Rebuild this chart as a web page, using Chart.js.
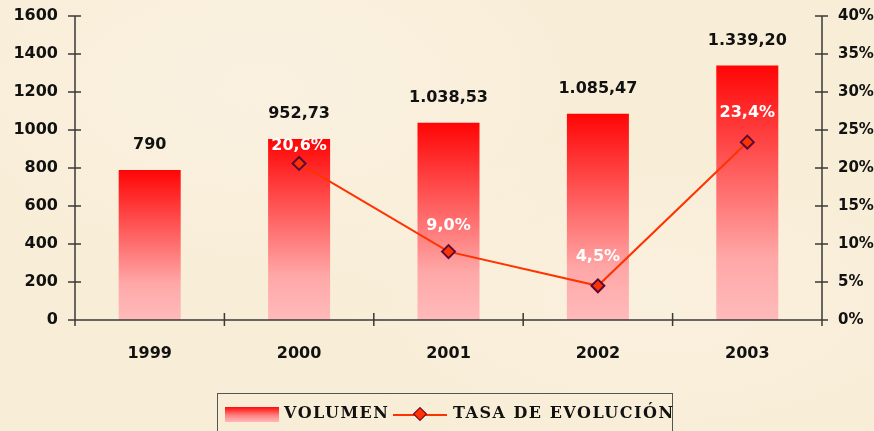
<!DOCTYPE html>
<html>
<head>
<meta charset="utf-8">
<script src="https://cdn.jsdelivr.net/npm/chart.js@4/dist/chart.umd.min.js"></script>
<style>
  html, body { margin:0; padding:0; width:874px; height:431px; overflow:hidden; background:#F8EDD7; }
  #wrap { position:relative; width:874px; height:431px;
    background: radial-gradient(ellipse at 30% 20%, #FAF1E1 0%, rgba(250,241,225,0) 45%),
                radial-gradient(ellipse at 75% 70%, #FAF0DE 0%, rgba(250,240,222,0) 40%),
                #F8EDD6; }
  canvas { position:absolute; left:0; top:0; }
  #legend { position:absolute; left:217px; top:393px; width:456px; height:45px;
    border:1.5px solid #555; box-sizing:border-box; font-family:"DejaVu Serif", serif; font-weight:bold;
    font-size:16px; letter-spacing:1.5px; color:#111; }
  .sw1 { position:absolute; left:7px; top:13px; width:54px; height:15px;
    background:linear-gradient(#FF0A0A, #FF8080 55%, #FFB8B8); }
  .t1 { position:absolute; left:66px; top:9px; white-space:nowrap; }
  .sw2 { position:absolute; left:175px; top:20px; width:54px; height:2px; background:#FF3300; }
  .dia { position:absolute; left:197px; top:15px; width:8px; height:8px; background:#FF3300;
    border:1.5px solid #660033; transform:rotate(45deg); }
  .t2 { position:absolute; left:235px; top:9px; white-space:nowrap; }
</style>
</head>
<body>
<div id="wrap">
<canvas id="c" width="874" height="431"></canvas>
<div id="legend">
  <div class="sw1"></div><div class="t1">VOLUMEN</div>
  <div class="sw2"></div><div class="dia"></div><div class="t2">TASA DE EVOLUCIÓN</div>
</div>
</div>
<script>
const categories = ['1999', '2000', '2001', '2002', '2003'];
const volumen = [790, 952.73, 1038.53, 1085.47, 1339.20];
const volumenLabels = ['790', '952,73', '1.038,53', '1.085,47', '1.339,20'];
const tasa = [null, 20.6, 9.0, 4.5, 23.4];
const tasaLabels = [null, '20,6%', '9,0%', '4,5%', '23,4%'];

const FONT = '"DejaVu Sans", Verdana, sans-serif';
const lineLabelOffsets = [0, 18, 26, 29, 29];

const axesPlugin = {
  id: 'axesDraw',
  afterDatasetsDraw(chart) {
    const { ctx, chartArea: a, scales } = chart;
    ctx.save();
    ctx.strokeStyle = '#3a3a3a';
    ctx.lineWidth = 1.5;
    ctx.beginPath();
    ctx.moveTo(a.left, a.top); ctx.lineTo(a.left, a.bottom);
    ctx.moveTo(a.right, a.top); ctx.lineTo(a.right, a.bottom);
    ctx.moveTo(a.left - 7, a.bottom); ctx.lineTo(a.right + 6, a.bottom);
    scales.y.ticks.forEach(t => {
      const y = scales.y.getPixelForValue(t.value);
      ctx.moveTo(a.left - 7, y); ctx.lineTo(a.left + 6, y);
    });
    scales.y2.ticks.forEach(t => {
      const y = scales.y2.getPixelForValue(t.value);
      ctx.moveTo(a.right - 7, y); ctx.lineTo(a.right + 6, y);
    });
    const n = categories.length;
    for (let i = 0; i <= n; i++) {
      let x;
      if (i === 0) x = a.left; else if (i === n) x = a.right;
      else x = (scales.x.getPixelForValue(i - 1) + scales.x.getPixelForValue(i)) / 2;
      ctx.moveTo(x, a.bottom - 7); ctx.lineTo(x, a.bottom + 6);
    }
    ctx.stroke();
    ctx.restore();
  },
  afterDraw(chart) {
    const { ctx } = chart;
    ctx.save();
    ctx.font = 'bold 16px ' + FONT;
    ctx.textAlign = 'center';
    ctx.textBaseline = 'middle';
    const barMeta = chart.getDatasetMeta(0);
    barMeta.data.forEach((el, i) => {
      ctx.fillStyle = '#111';
      ctx.fillText(volumenLabels[i], el.x, el.y - 25);
    });
    const lineMeta = chart.getDatasetMeta(1);
    lineMeta.data.forEach((el, i) => {
      if (tasa[i] == null) return;
      ctx.fillStyle = '#ffffff';
      ctx.fillText(tasaLabels[i], el.x, el.y - lineLabelOffsets[i]);
    });
    ctx.restore();
  }
};

function fixV(width) {
  return (s) => { s.width = width; s.paddingTop = 0; s.paddingBottom = 0; };
}

new Chart(document.getElementById('c'), {
  data: {
    labels: categories,
    datasets: [
      {
        type: 'bar',
        label: 'VOLUMEN',
        data: volumen,
        yAxisID: 'y',
        order: 2,
        barPercentage: 0.415,
        categoryPercentage: 1,
        borderWidth: 0,
        backgroundColor: (c) => {
          const chart = c.chart;
          const { chartArea, scales } = chart;
          if (!chartArea || c.type !== 'data') return '#ff0000';
          const top = scales.y.getPixelForValue(c.raw);
          const bottom = scales.y.getPixelForValue(0);
          const g = chart.ctx.createLinearGradient(0, top, 0, bottom);
          g.addColorStop(0, '#FF0505');
          g.addColorStop(0.5, '#FF7070');
          g.addColorStop(0.76, '#FFA8A8');
          g.addColorStop(1, '#FFBABA');
          return g;
        }
      },
      {
        type: 'line',
        label: 'TASA DE EVOLUCIÓN',
        data: tasa,
        yAxisID: 'y2',
        order: 1,
        borderColor: '#FF3300',
        borderWidth: 2,
        tension: 0,
        spanGaps: false,
        pointStyle: 'rectRot',
        pointRadius: 6.5,
        pointHoverRadius: 6.5,
        pointBackgroundColor: '#FF3300',
        pointBorderColor: '#5a0b3a',
        pointBorderWidth: 2
      }
    ]
  },
  options: {
    responsive: false,
    animation: false,
    events: [],
    layout: { padding: { top: 16, left: 0, right: 0, bottom: 0 } },
    plugins: { legend: { display: false }, tooltip: { enabled: false } },
    scales: {
      x: {
        grid: { display: false },
        border: { display: false },
        ticks: { color: '#111', font: { family: FONT, size: 16, weight: 'bold' }, padding: 16 },
        afterFit(s) { s.height = 111; }
      },
      y: {
        position: 'left',
        min: 0, max: 1600,
        grid: { display: false },
        border: { display: false },
        ticks: { stepSize: 200, color: '#111', font: { family: FONT, size: 16, weight: 'bold' }, padding: 9,
          callback: v => String(v) },
        afterFit: fixV(75)
      },
      y2: {
        position: 'right',
        min: 0, max: 40,
        grid: { display: false },
        border: { display: false },
        ticks: { stepSize: 5, color: '#111', font: { family: FONT, size: 15, weight: 'bold' }, padding: 8,
          callback: v => v + '%' },
        afterFit: fixV(52)
      }
    }
  },
  plugins: [axesPlugin]
});
</script>
</body>
</html>
